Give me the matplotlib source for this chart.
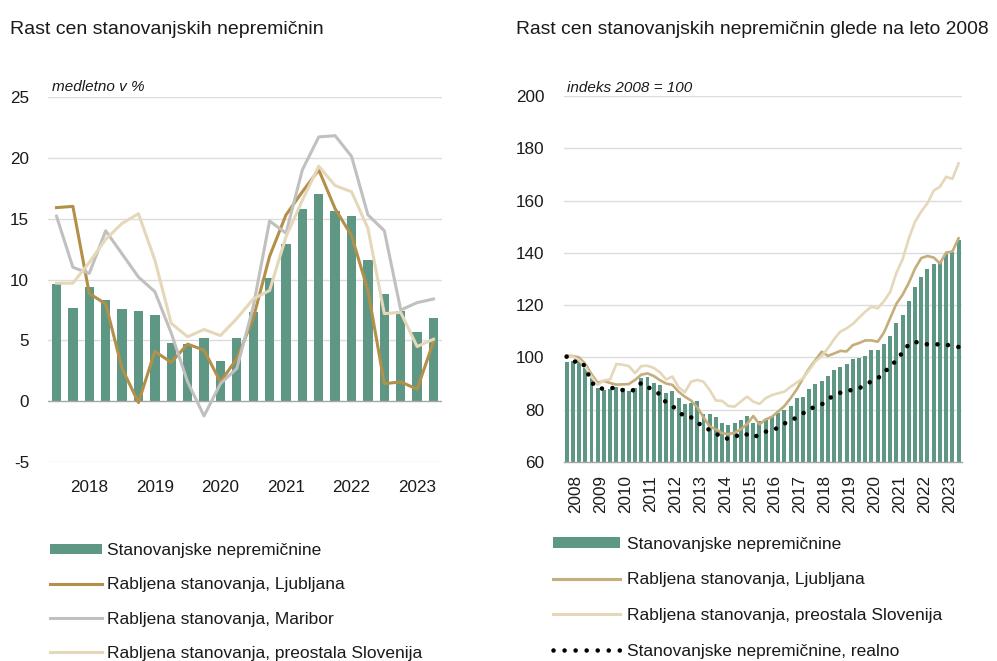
import numpy as np
import matplotlib
matplotlib.use("Agg")
import matplotlib.pyplot as plt
from matplotlib.lines import Line2D
from matplotlib.patches import Patch

plt.rcParams['font.family'] = ['Liberation Sans', 'DejaVu Sans']

# ---------------- Left chart data (y/y %, quarterly 2017Q3 - 2023Q2) ----------------
left_quarters = [f"{y}Q{q}" for y in range(2017, 2024) for q in range(1, 5)][2:26]
left_year_labels = ["2018", "2019", "2020", "2021", "2022", "2023"]
stan_nepr_yoy = [9.6, 7.7, 9.4, 8.3, 7.6, 7.4, 7.1, 4.8, 4.7, 5.2, 3.3, 5.2,
                 7.3, 10.1, 12.9, 15.8, 17.0, 15.6, 15.2, 11.6, 8.8, 7.4, 5.7, 6.8]
ljubljana_yoy = [15.9, 16.0, 8.85, 8.0, 2.7, -0.1, 4.1, 3.2, 4.7, 4.2, 1.6, 3.5,
                 6.8, 11.9, 15.3, 17.2, 19.0, 15.8, 13.6, 9.1, 1.45, 1.6, 1.0, 4.9]
maribor_yoy = [15.2, 11.0, 10.5, 14.0, 12.1, 10.2, 9.0, 5.6, 1.6, -1.2, 1.45, 2.7,
               7.75, 14.8, 13.8, 19.0, 21.7, 21.8, 20.1, 15.3, 14.0, 7.5, 8.1, 8.4]
preostala_yoy = [9.7, 9.7, 11.4, 13.3, 14.6, 15.4, 11.6, 6.4, 5.3, 5.9, 5.4, 6.8,
                 8.4, 9.1, 13.5, 16.5, 19.3, 17.7, 17.2, 14.2, 7.2, 7.3, 4.5, 5.1]

# ---------------- Right chart data (index 2008 = 100, quarterly 2008Q1 - 2023Q4) ----------------
right_year_labels = [str(y) for y in range(2008, 2024)]
stan_nepr_idx = [98.1, 98.8, 99.4, 96.0, 92.0, 88.3, 87.6, 88.0,
                 88.6, 88.3, 87.3, 88.2, 92.3, 92.7, 90.4, 89.6,
                 86.3, 87.2, 84.4, 82.0, 82.7, 83.2, 78.4, 78.4,
                 77.1, 75.1, 74.2, 74.8, 76.1, 77.6, 75.1, 75.8,
                 76.3, 77.6, 78.9, 79.9, 81.4, 84.4, 85.0, 87.9,
                 89.7, 91.0, 93.0, 95.2, 96.2, 97.6, 99.5, 99.8,
                 100.7, 102.8, 103.0, 105.0, 108.2, 113.2, 116.2, 121.6,
                 126.8, 130.9, 133.8, 135.6, 136.5, 139.6, 140.5, 144.9]
ljubljana_idx = [100.7, 100.5, 100.0, 97.5, 93.6, 90.3, 91.0, 90.2,
                 89.6, 89.7, 89.8, 91.4, 93.4, 93.9, 92.9, 91.3,
                 90.0, 89.5, 86.9, 85.0, 83.5, 80.9, 77.1, 73.6,
                 72.5, 71.0, 70.7, 71.2, 72.5, 74.5, 77.6, 74.4,
                 76.3, 77.3, 79.3, 81.4, 84.4, 87.8, 92.0, 95.8,
                 99.0, 102.2, 100.6, 101.5, 102.5, 102.3, 104.7, 105.5,
                 106.5, 106.5, 106.0, 109.5, 115.0, 120.5, 124.0, 128.5,
                 134.0, 138.0, 138.8, 138.2, 136.0, 140.1, 140.5, 145.6]
preostala_idx = [100.3, 100.3, 99.0, 96.5, 92.6, 89.5, 91.2, 91.6,
                 97.5, 97.2, 96.7, 94.0, 96.7, 96.8, 96.0, 94.3,
                 91.6, 92.7, 88.6, 86.7, 90.7, 91.4, 90.7, 87.5,
                 83.5, 83.4, 81.4, 81.2, 83.1, 85.0, 83.1, 82.2,
                 84.4, 85.6, 86.3, 86.9, 88.8, 90.4, 92.0, 95.2,
                 98.5, 100.5, 103.5, 107.0, 109.9, 111.1, 112.8, 115.2,
                 117.5, 119.4, 118.8, 121.5, 125.0, 132.3, 137.5, 145.5,
                 151.9, 155.8, 159.0, 163.8, 165.3, 169.1, 168.3, 174.2]
realno_idx = [100.3, 98.2, 98.8, 96.5, 90.5, 88.3, 88.0, 88.2,
              88.5, 87.5, 87.1, 87.6, 90.3, 88.8, 87.3, 85.9,
              82.7, 81.4, 79.4, 77.2, 77.1, 75.3, 73.2, 72.3,
              71.0, 69.2, 68.9, 69.4, 71.0, 70.5, 69.4, 70.5,
              71.6, 72.3, 73.0, 74.7, 75.9, 77.0, 78.6, 80.4,
              81.0, 82.0, 84.0, 85.5, 86.5, 87.2, 87.6, 88.1,
              89.7, 90.8, 92.0, 94.0, 96.8, 98.7, 102.0, 105.0,
              106.0, 105.3, 105.0, 105.0, 105.0, 104.9, 104.3, 104.0]

# ---------------- Styles ----------------
GREEN = '#5E9784'
GOLD = '#B3904A'
GOLD_R = '#C6AD7C'
GRAY = '#C0C0C0'
BEIGE = '#E4D8B9'
GRID = '#DCDCDC'
AXIS = '#A6A6A6'
TXT = '#1A1A1A'

W, H = 997, 661
fig = plt.figure(figsize=(W / 100, H / 100), dpi=100)

def frac_box(x0, y0, x1, y1):
    return [x0 / W, 1 - y1 / H, (x1 - x0) / W, (y1 - y0) / H]

# ---------------- Left axes ----------------
ax1 = fig.add_axes(frac_box(48.3, 96.7, 441.7, 462.3))
xl = np.arange(len(left_quarters))
ax1.bar(xl, stan_nepr_yoy, width=0.57, color=GREEN, zorder=2)
ax1.plot(xl, ljubljana_yoy, color=GOLD, lw=2.2, zorder=3, solid_joinstyle='round')
ax1.plot(xl, maribor_yoy, color=GRAY, lw=2.2, zorder=3, solid_joinstyle='round')
ax1.plot(xl, preostala_yoy, color=BEIGE, lw=2.2, zorder=3, solid_joinstyle='round')
ax1.set_xlim(-0.5, len(left_quarters) - 0.5)
ax1.set_ylim(-5, 25)
yt = [-5, 0, 5, 10, 15, 20, 25]
ax1.set_yticks(yt)
ax1.set_yticklabels([str(v) for v in yt])
for v in yt:
    if v != 0:
        ax1.axhline(v, color=GRID, lw=1.0, zorder=0)
ax1.axhline(0, color=AXIS, lw=1.0, zorder=2.5)
ax1.set_xticks([2 + 4 * k for k in range(len(left_year_labels))])
ax1.set_xticklabels(left_year_labels)
for s in ax1.spines.values():
    s.set_visible(False)
ax1.tick_params(axis='y', length=0, pad=13.9, labelsize=12.3, labelcolor=TXT)
ax1.tick_params(axis='x', length=0, pad=13.0, labelsize=12.3, labelcolor=TXT)

# ---------------- Right axes ----------------
ax2 = fig.add_axes(frac_box(563.5, 96.0, 961.7, 462.0))
xr = np.arange(len(stan_nepr_idx))
ax2.bar(xr, stan_nepr_idx, width=0.64, color=GREEN, zorder=2, bottom=0)
ax2.plot(xr, ljubljana_idx, color=GOLD_R, lw=1.9, zorder=3, solid_joinstyle='round')
ax2.plot(xr, preostala_idx, color=BEIGE, lw=1.9, zorder=3, solid_joinstyle='round')
ax2.plot(xr, realno_idx, color='black', lw=3.3, zorder=4,
         linestyle=(0, (0.01, 2.3)), dash_capstyle='round')
ax2.set_xlim(-0.5, len(stan_nepr_idx) - 0.5)
ax2.set_ylim(60, 200)
yt2 = list(range(60, 201, 20))
ax2.set_yticks(yt2)
ax2.set_yticklabels([str(v) for v in yt2])
for v in yt2[1:]:
    ax2.axhline(v, color=GRID, lw=1.0, zorder=0)
ax2.set_xticks([1.5 + 4 * k for k in range(len(right_year_labels))])
ax2.set_xticklabels(right_year_labels, rotation=90)
for name, s in ax2.spines.items():
    s.set_visible(name == 'bottom')
ax2.spines['bottom'].set_color(AXIS)
ax2.spines['bottom'].set_linewidth(1.0)
ax2.spines['bottom'].set_zorder(5)
ax2.tick_params(axis='y', length=0, pad=13.9, labelsize=12.3, labelcolor=TXT)
ax2.tick_params(axis='x', length=0, pad=9.2, labelsize=12.3, labelcolor=TXT)

# ---------------- Titles & annotations ----------------
fig.text(10 / W, 1 - 34 / H, "Rast cen stanovanjskih nepremičnin",
         fontsize=14, color=TXT, va='baseline', ha='left')
fig.text(516 / W, 1 - 34 / H, "Rast cen stanovanjskih nepremičnin glede na leto 2008",
         fontsize=13.9, color=TXT, va='baseline', ha='left')
fig.text(52.3 / W, 1 - 91 / H, "medletno v %", fontsize=11, style='italic',
         color=TXT, va='baseline', ha='left')
fig.text(566.7 / W, 1 - 91.5 / H, "indeks 2008 = 100", fontsize=11, style='italic',
         color=TXT, va='baseline', ha='left')

# ---------------- Legends ----------------
h_left = [Patch(facecolor=GREEN, edgecolor='none'),
          Line2D([], [], color=GOLD, lw=2.2),
          Line2D([], [], color=GRAY, lw=2.2),
          Line2D([], [], color=BEIGE, lw=2.2)]
l_left = ["Stanovanjske nepremičnine", "Rabljena stanovanja, Ljubljana",
          "Rabljena stanovanja, Maribor", "Rabljena stanovanja, preostala Slovenija"]
fig.legend(h_left, l_left, loc='upper left', bbox_to_anchor=(50 / W, 1 - 543 / H),
           frameon=False, fontsize=12.5, handlelength=2.97, handleheight=0.48,
           handletextpad=0.32, labelspacing=1.11, borderpad=0, borderaxespad=0,
           labelcolor=TXT)

h_right = [Patch(facecolor=GREEN, edgecolor='none'),
           Line2D([], [], color=GOLD_R, lw=2.2),
           Line2D([], [], color=BEIGE, lw=2.2),
           Line2D([], [], color='black', lw=3.3, linestyle=(0, (0.01, 2.4)),
                  dash_capstyle='round')]
l_right = ["Stanovanjske nepremičnine", "Rabljena stanovanja, Ljubljana",
           "Rabljena stanovanja, preostala Slovenija", "Stanovanjske nepremičnine, realno"]
fig.legend(h_right, l_right, loc='upper left', bbox_to_anchor=(552.7 / W, 1 - 536.7 / H),
           frameon=False, fontsize=12.5, handlelength=3.9, handleheight=0.57,
           handletextpad=0.38, labelspacing=1.19, borderpad=0, borderaxespad=0,
           labelcolor=TXT)

fig.savefig("out.png", dpi=100)
